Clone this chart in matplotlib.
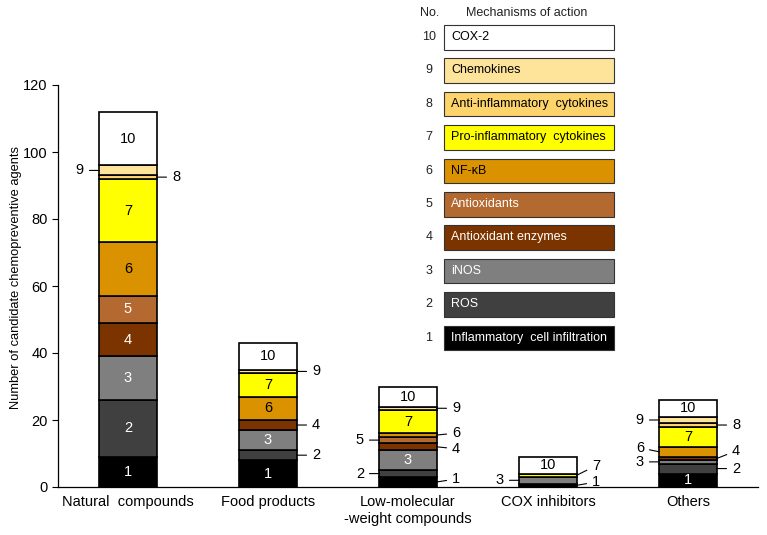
import numpy as np
import matplotlib
matplotlib.use("Agg")
import matplotlib.pyplot as plt
from matplotlib.patches import Rectangle

plt.rcParams['font.family'] = ['Liberation Sans', 'DejaVu Sans']

# data
groups = ["Natural  compounds", "Food products", "Low-molecular\n-weight compounds",
          "COX inhibitors", "Others"]
mechanisms = ["Inflammatory  cell infiltration", "ROS", "iNOS", "Antioxidant enzymes",
              "Antioxidants", "NF-\u03baB", "Pro-inflammatory  cytokines",
              "Anti-inflammatory  cytokines", "Chemokines", "COX-2"]
# counts per mechanism (1..10) for each group
natural = [9, 17, 13, 10, 8, 16, 19, 1, 3, 16]
food = [8, 3, 6, 3, 0, 7, 7, 0, 1, 8]
low_mw = [3, 2, 6, 2, 2, 1, 7, 0, 1, 6]
cox = [1, 0, 2, 0, 0, 0, 1, 0, 0, 5]
others = [4, 3, 1, 1, 0, 3, 6, 1, 2, 5]
counts = np.array([natural, food, low_mw, cox, others])

colors = ["#000000", "#404040", "#7f7f7f", "#7b3400", "#b3692f",
          "#db9200", "#ffff00", "#fdd36b", "#fee49a", "#ffffff"]
light_text = [True, True, True, True, True, False, False, False, False, False]

# labels drawn inside the segments, per group
inside = [[1, 2, 3, 4, 5, 6, 7, 10], [1, 3, 6, 7, 10], [3, 7, 10], [10], [1, 7, 10]]
# labels drawn outside with a leader line: (mechanism no., side, dy in data units)
outside = [
    [(9, -1, 0), (8, 1, 0)],
    [(9, 1, 0), (4, 1, 0), (2, 1, 0)],
    [(5, -1, 0), (2, -1, 0), (9, 1, 0), (6, 1, 0.6), (4, 1, -0.6), (1, 1, 0.9)],
    [(3, -1, 0), (7, 1, 2.9), (1, 1, 1.0)],
    [(9, -1, 0), (6, -1, 1.2), (3, -1, 0), (8, 1, 0), (4, 1, 2.3), (2, 1, 0)],
]

fig = plt.figure(figsize=(7.67, 5.35), dpi=100)
ax = fig.add_axes([58 / 767, 48 / 535, 700 / 767, 402 / 535])

x = np.arange(len(groups))
width = 0.41
bottom = np.zeros(len(groups))
for k in range(len(mechanisms)):
    ax.bar(x, counts[:, k], width, bottom=bottom, color=colors[k],
           edgecolor="black", linewidth=1.2, zorder=2)
    bottom += counts[:, k]

starts = np.cumsum(counts, axis=1) - counts
centers = starts + counts / 2

for i in range(len(groups)):
    for no in inside[i]:
        ax.text(x[i], centers[i, no - 1], str(no), ha="center", va="center",
                fontsize=10.5, color="white" if light_text[no - 1] else "black",
                zorder=3)
    for no, side, dy in outside[i]:
        edge = x[i] + side * width / 2
        yc = centers[i, no - 1]
        ax.annotate(str(no), xy=(edge, yc), xytext=(edge + side * 0.11, yc + dy),
                    ha="left" if side > 0 else "right", va="center", fontsize=10.5,
                    arrowprops=dict(arrowstyle="-", color="black", lw=0.8,
                                    shrinkA=2, shrinkB=0),
                    zorder=3)

ax.set_xlim(-0.5, 4.5)
ax.set_ylim(0, 120)
ax.set_yticks(np.arange(0, 121, 20))
ax.set_xticks(x)
ax.set_xticklabels(groups, fontsize=10.5)
ax.tick_params(axis="x", length=0, pad=6)
ax.tick_params(axis="y", labelsize=10.5, length=4, direction="out", width=0.8)
ax.set_ylabel("Number of candidate chemopreventive agents", fontsize=9.3)
ax.yaxis.set_label_coords(-0.052, 0.52)
for s in ["top", "right"]:
    ax.spines[s].set_visible(False)
for s in ["left", "bottom"]:
    ax.spines[s].set_linewidth(0.9)

# mechanism key, drawn in pixel coordinates on an overlay
key = fig.add_axes([0, 0, 1, 1])
key.set_xlim(0, 767)
key.set_ylim(535, 0)
key.axis("off")
key.text(430, 13, "No.", ha="center", va="center", fontsize=9, color="#222222")
key.text(527, 13, "Mechanisms of action", ha="center", va="center", fontsize=9,
         color="#222222")
for k in range(len(mechanisms)):
    row = 9 - k
    yc = 37 + row * 33.4
    key.add_patch(Rectangle((444, yc - 12), 170, 24.5, facecolor=colors[k],
                            edgecolor="#333333", linewidth=0.8))
    key.text(429, yc, str(k + 1), ha="center", va="center", fontsize=9,
             color="#222222")
    key.text(451, yc, mechanisms[k], ha="left", va="center", fontsize=9,
             color="white" if light_text[k] else "black")

fig.savefig("out.png", dpi=100)
